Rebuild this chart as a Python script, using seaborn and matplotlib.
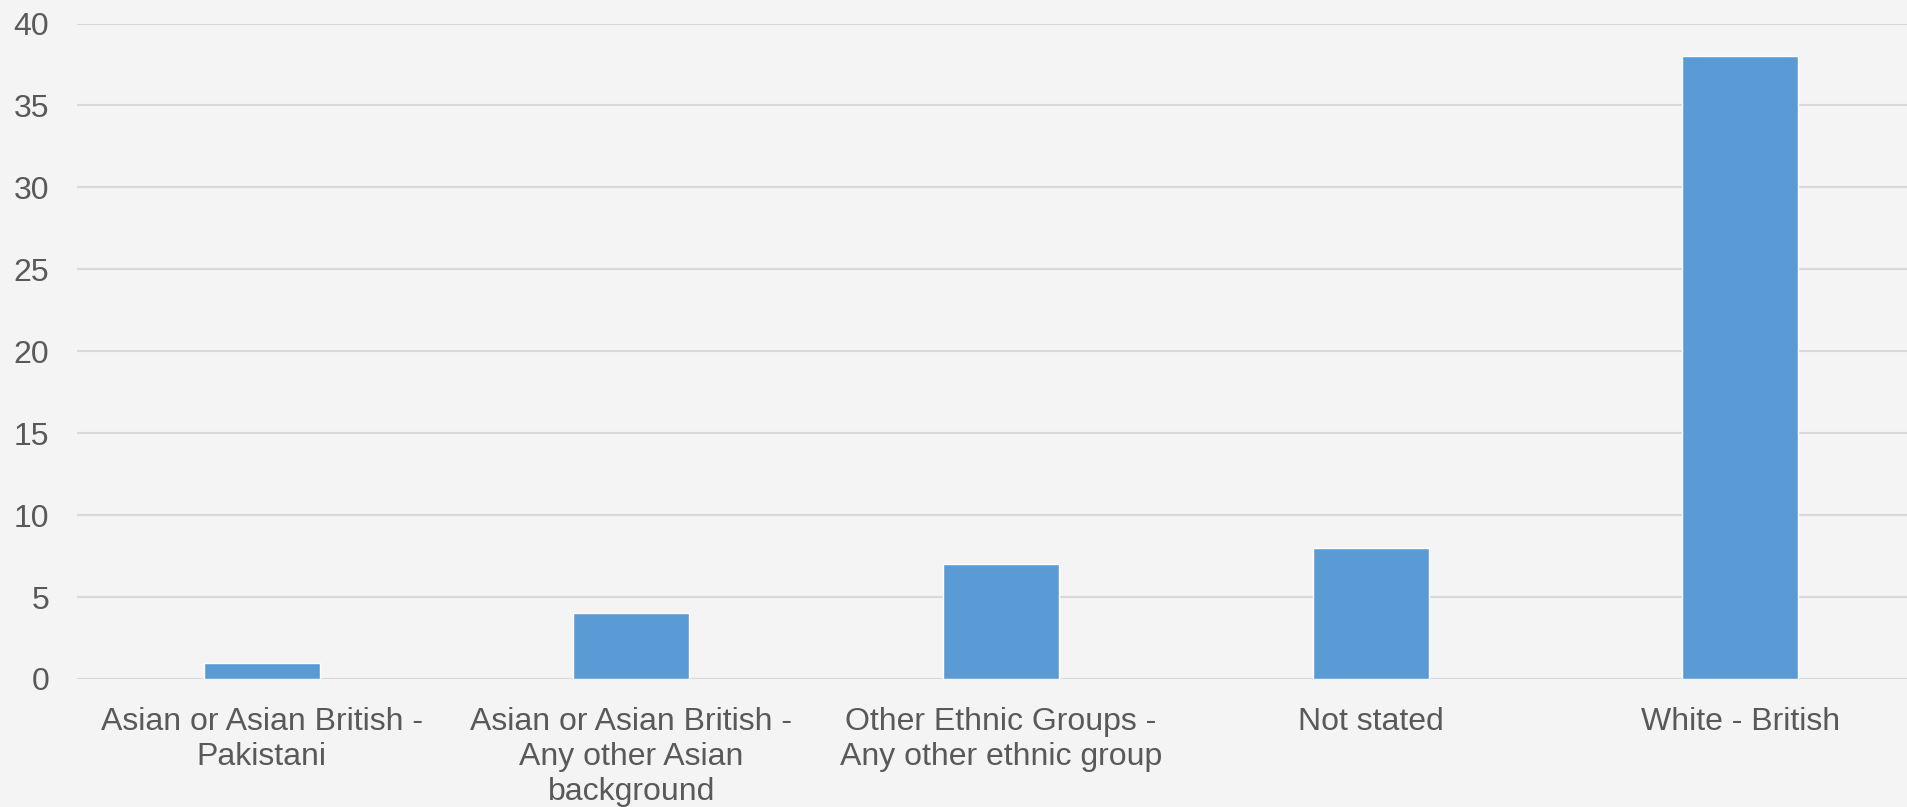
import matplotlib
matplotlib.use("Agg")
import matplotlib.pyplot as plt
import seaborn as sns
import pandas as pd

categories = [
    "Asian or Asian British -\nPakistani",
    "Asian or Asian British -\nAny other Asian\nbackground",
    "Other Ethnic Groups -\nAny other ethnic group",
    "Not stated",
    "White - British",
]
values = [1, 4, 7, 8, 38]
yticks = [0, 5, 10, 15, 20, 25, 30, 35, 40]

sns.set_theme(style="white")
plt.rcParams['font.family'] = ['Liberation Sans', 'DejaVu Sans']

bg = "#f4f4f4"
text_col = "#595959"
W, H = 1908, 807
fig = plt.figure(figsize=(W / 100, H / 100), dpi=100, facecolor=bg)
left, right = 77, 1925
top, bottom = 23.5, 679
ax = fig.add_axes([left / W, (H - bottom) / H, (right - left) / W, (bottom - top) / H])
ax.set_facecolor(bg)

df = pd.DataFrame({"cat": categories, "val": values})
sns.barplot(data=df, x="cat", y="val", color="#5b9bd5", saturation=1, width=0.314, ax=ax, zorder=3)

ax.set_xlim(-0.5, 4.5)
ax.set_ylim(0, 40)
ax.set_yticks(yticks)
ax.set_yticklabels([str(v) for v in yticks])
ax.yaxis.grid(True, color="#d9d9d9", linewidth=1.5, zorder=0)
ax.set_axisbelow(True)
for s in ax.spines.values():
    s.set_visible(False)
ax.tick_params(axis="y", length=0, pad=20, labelsize=23, labelcolor=text_col)
ax.tick_params(axis="x", length=0, pad=20, labelsize=23, labelcolor=text_col)
for lbl in ax.get_xticklabels():
    lbl.set_linespacing(1.22)
ax.set_xlabel("")
ax.set_ylabel("")

fig.savefig("out.png", dpi=100, facecolor=bg)
